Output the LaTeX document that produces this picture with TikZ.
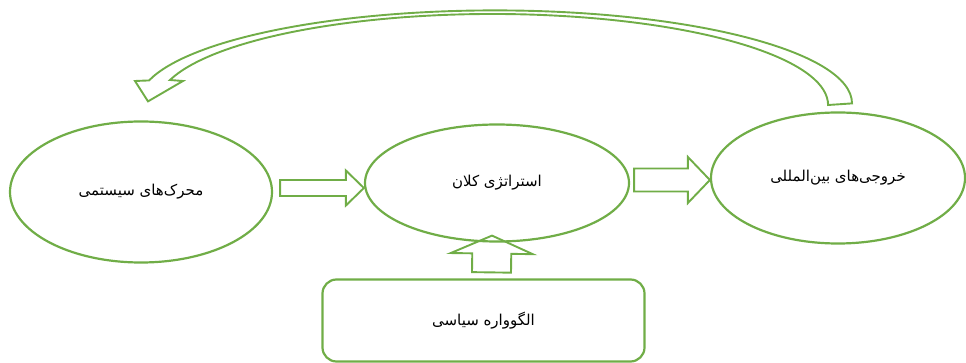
\documentclass[tikz,border=0pt]{standalone}
\usepackage{fontspec}
\usetikzlibrary{shapes.geometric,calc}
\newfontfamily\arabicfont[Script=Arabic]{DejaVu Sans}
\TeXXeTstate=1
\definecolor{leaf}{RGB}{112,173,71}
% block arrow: tail, tip, shaft half width, head half width, head length
\newcommand{\fatarrow}[5]{%
  \coordinate (base) at ($(#2)!#5!(#1)$);
  \draw[flow] ($(#1)!#3!90:(#2)$) -- ($(base)!#3!90:(#2)$) -- ($(base)!#4!90:(#2)$) -- (#2)
    -- ($(base)!#4!-90:(#2)$) -- ($(base)!#3!-90:(#2)$) -- ($(#1)!#3!-90:(#2)$) -- cycle;}

\begin{document}
\begin{tikzpicture}[x=1pt,y=-1pt,
  bubble/.style={ellipse, draw=leaf, line width=2.2pt, font=\arabicfont\fontsize{15}{18}\selectfont},
  frame/.style={rectangle, draw=leaf, line width=2.2pt, rounded corners=14pt, font=\arabicfont\fontsize{15}{18}\selectfont},
  flow/.style={draw=leaf, line width=1.9pt, line join=miter}]
\useasboundingbox (0,0) rectangle (966,363);
\node[bubble, minimum width=262pt, minimum height=141pt] (drivers) at (141,192) {\beginR محرک‌های سیستمی\endR};
\node[bubble, minimum width=264pt, minimum height=117pt] (strategy) at (497,183) {\beginR استراتژی کلان\endR};
\node[bubble, minimum width=254pt, minimum height=131pt] (outputs) at (838,178) {\beginR خروجی‌های بین‌المللی\endR};
\node[frame, minimum width=322pt, minimum height=82pt] (paradigm) at (483.5,320.5) {\beginR الگوواره سیاسی\endR};

% straight arrows
\coordinate (a1) at ([xshift=7pt,yshift=4pt]drivers.east);
\coordinate (b1) at ([yshift=-5pt]strategy.west);
\fatarrow{a1}{b1}{8pt}{17.5pt}{18pt}
\coordinate (a2) at ([xshift=4pt,yshift=3pt]strategy.east);
\coordinate (b2) at ([yshift=-2pt]outputs.west);
\fatarrow{a2}{b2}{11.5pt}{23pt}{22pt}
\coordinate (a3) at ([xshift=8pt,yshift=6pt]paradigm.north);
\coordinate (b3) at ([xshift=-5pt,yshift=7pt]strategy.south);
\fatarrow{a3}{b3}{19.5pt}{41pt}{18pt}

% curved arrow back to the drivers
\coordinate (loopstart) at ([xshift=14pt,yshift=8pt]outputs.north);
\coordinate (looptip) at ([xshift=7pt,yshift=19pt]drivers.north);
\draw[flow] (loopstart) arc[start angle=0, end angle=165.7, x radius=357pt, y radius=93pt]
  -- (135,81) -- (looptip) -- (183,81) -- (170,80)
  arc[start angle=164.05, end angle=0, x radius=335.5pt, y radius=91pt] -- cycle;
\end{tikzpicture}
\end{document}
